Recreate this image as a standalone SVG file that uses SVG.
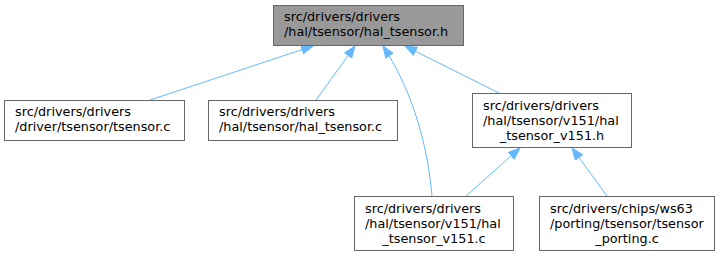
<svg xmlns="http://www.w3.org/2000/svg" width="720" height="256" viewBox="0 0 720 256">
<defs>
<style>
.node rect{fill:#ffffff;stroke:#666666;stroke-width:1}
.node.hl rect{fill:#999999}
text{font-family:"DejaVu Sans","Liberation Sans",sans-serif;font-size:12.8px;fill:#000000}
.mid{text-anchor:middle}
.edge{fill:none;stroke:#63b8ff;stroke-width:1}
</style>
<marker id="ah" markerWidth="14" markerHeight="12" refX="12" refY="5" orient="auto" markerUnits="userSpaceOnUse">
<polygon points="0,0.5 12,5 0,9.5" fill="#63b8ff" stroke="#63b8ff" stroke-width="1"/>
</marker>
</defs>
<rect width="720" height="256" fill="#ffffff"/>
<g id="connectors">
<path class="edge" marker-end="url(#ah)" d="M150,100 L313,46"/>
<path class="edge" marker-end="url(#ah)" d="M316,100 L355,46"/>
<path class="edge" marker-end="url(#ah)" d="M432,196 C428,150 415,95 383,46"/>
<path class="edge" marker-end="url(#ah)" d="M499,93 L405,46"/>
<path class="edge" marker-end="url(#ah)" d="M466,196 L520,148"/>
<path class="edge" marker-end="url(#ah)" d="M607,196 L572,148"/>
</g>
<g id="node_hal_tsensor_h" class="node hl">
<rect x="273.5" y="5.5" width="190" height="40"/>
<text x="284" y="21">src/drivers/drivers</text>
<text x="284" y="36">/hal/tsensor/hal_tsensor.h</text>
</g>
<g id="node_tsensor_c" class="node">
<rect x="4.5" y="100.5" width="180" height="40"/>
<text x="15" y="116">src/drivers/drivers</text>
<text x="15" y="131">/driver/tsensor/tsensor.c</text>
</g>
<g id="node_hal_tsensor_c" class="node">
<rect x="208.5" y="100.5" width="189" height="40"/>
<text x="219" y="116">src/drivers/drivers</text>
<text x="219" y="131">/hal/tsensor/hal_tsensor.c</text>
</g>
<g id="node_hal_tsensor_v151_h" class="node">
<rect x="472.5" y="93.5" width="159" height="54"/>
<text x="483" y="110">src/drivers/drivers</text>
<text x="483" y="125">/hal/tsensor/v151/hal</text>
<text class="mid" x="552" y="139.5">_tsensor_v151.h</text>
</g>
<g id="node_hal_tsensor_v151_c" class="node">
<rect x="354.5" y="196.5" width="159" height="54"/>
<text x="365" y="213">src/drivers/drivers</text>
<text x="365" y="228">/hal/tsensor/v151/hal</text>
<text class="mid" x="434" y="242.5">_tsensor_v151.c</text>
</g>
<g id="node_tsensor_porting_c" class="node">
<rect x="539.5" y="196.5" width="175" height="54"/>
<text x="550" y="213">src/drivers/chips/ws63</text>
<text x="550" y="228">/porting/tsensor/tsensor</text>
<text class="mid" x="627" y="242.5">_porting.c</text>
</g>
</svg>
